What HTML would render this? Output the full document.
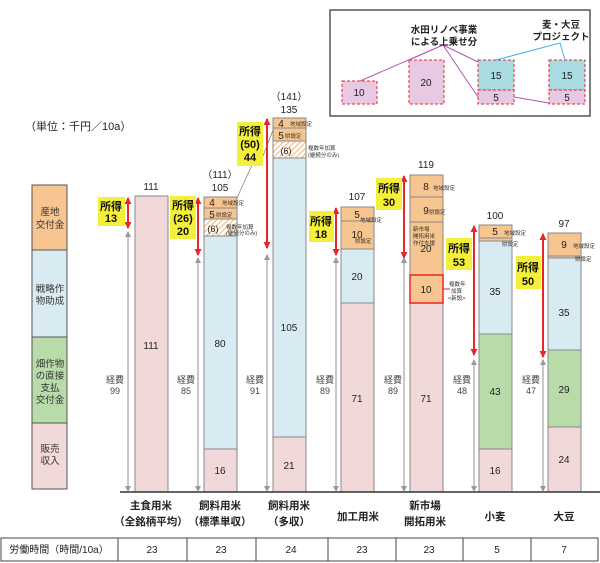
<!DOCTYPE html>
<html><head><meta charset="utf-8"><style>
html,body{margin:0;padding:0;background:#fff}
svg{display:block;font-family:"Liberation Sans","Noto Sans CJK JP",sans-serif}
</style></head><body>
<svg width="600" height="563" viewBox="0 0 600 563" xmlns="http://www.w3.org/2000/svg">
<defs>
<pattern id="h" width="4" height="4" patternUnits="userSpaceOnUse" patternTransform="rotate(45)">
<rect width="4" height="4" fill="#fff"/><rect width="1.5" height="4" fill="#f5c99a"/></pattern>
<marker id="ar" markerUnits="userSpaceOnUse" markerWidth="7" markerHeight="8" refX="6" refY="3.5" orient="auto-start-reverse"><path d="M0,0L7,3.5L0,7z" fill="#e8262a"/></marker>
<marker id="ag" markerUnits="userSpaceOnUse" markerWidth="6" markerHeight="6" refX="5" refY="3" orient="auto-start-reverse"><path d="M0,0L6,3L0,6z" fill="#999"/></marker>
</defs>
<rect x="330" y="10" width="260" height="106" fill="#fff" stroke="#555" stroke-width="1.5"/>
<g fill="#e8c9e3" stroke="#e8262a" stroke-dasharray="3,2">
<rect x="342" y="81" width="35" height="23"/>
<rect x="409" y="60" width="35" height="44"/>
<rect x="478" y="60" width="36" height="30" fill="#a8dbe2"/>
<rect x="478" y="90" width="36" height="14"/>
<rect x="549" y="60" width="36" height="30" fill="#a8dbe2"/>
<rect x="549" y="90" width="36" height="14"/>
</g>
<g stroke="#b455b0" fill="none" stroke-width="1">
<path d="M360,81L443,45L409,60M443,45L478,62M443,45L478,97M514,97L549,103"/>
</g>
<path d="M496,60L560,43L565,60" stroke="#3fb6e6" fill="none"/>
<g font-size="10" text-anchor="middle" fill="#222">
<text x="359" y="96">10</text><text x="426" y="86">20</text>
<text x="496" y="79">15</text><text x="496" y="101">5</text>
<text x="567" y="79">15</text><text x="567" y="101">5</text>
<text x="444" y="33" font-size="9.5" font-weight="bold">水田リノベ事業</text>
<text x="444" y="45" font-size="9.5" font-weight="bold">による上乗せ分</text>
<text x="561" y="28" font-size="9.5" font-weight="bold">麦・大豆</text>
<text x="561" y="40" font-size="9.5" font-weight="bold">プロジェクト</text>
</g>
<text x="25" y="130" font-size="11" fill="#222">（単位：千円／10a）</text>
<g stroke="#555">
<rect x="32" y="185" width="35" height="65" fill="#f7c58f"/>
<rect x="32" y="250" width="35" height="87" fill="#d9ebf2"/>
<rect x="32" y="337" width="35" height="86" fill="#b9dba9"/>
<rect x="32" y="423" width="35" height="66" fill="#f2d9d9"/>
</g>
<g font-size="9.5" text-anchor="middle" fill="#333">
<text x="50" y="215">産地</text><text x="50" y="228">交付金</text>
<text x="50" y="292">戦略作</text><text x="50" y="304">物助成</text>
<text x="50" y="367">畑作物</text><text x="50" y="379">の直接</text><text x="50" y="391">支払</text><text x="50" y="403">交付金</text>
<text x="50" y="452">販売</text><text x="50" y="464">収入</text>
</g>
<g stroke="#888" stroke-width="1">
<rect x="135" y="196" width="33" height="296" fill="#f2d9d9"/>
<rect x="204" y="197" width="33" height="11" fill="#f7c58f"/>
<rect x="204" y="208" width="33" height="11" fill="#f7c58f"/>
<rect x="204" y="219" width="33" height="17" fill="url(#h)"/>
<rect x="204" y="236" width="33" height="213" fill="#d9ebf2"/>
<rect x="204" y="449" width="33" height="43" fill="#f2d9d9"/>
<rect x="273" y="118" width="33" height="10" fill="#f7c58f"/>
<rect x="273" y="128" width="33" height="13" fill="#f7c58f"/>
<rect x="273" y="141" width="33" height="17" fill="url(#h)"/>
<rect x="273" y="158" width="33" height="279" fill="#d9ebf2"/>
<rect x="273" y="437" width="33" height="55" fill="#f2d9d9"/>
<rect x="341" y="207" width="33" height="14" fill="#f7c58f"/>
<rect x="341" y="221" width="33" height="28" fill="#f7c58f"/>
<rect x="341" y="249" width="33" height="54" fill="#d9ebf2"/>
<rect x="341" y="303" width="33" height="189" fill="#f2d9d9"/>
<rect x="410" y="175" width="33" height="22" fill="#f7c58f"/>
<rect x="410" y="197" width="33" height="25" fill="#f7c58f"/>
<rect x="410" y="222" width="33" height="53" fill="#f7c58f"/>
<rect x="410" y="303" width="33" height="189" fill="#f2d9d9"/>
<rect x="410" y="275" width="33" height="28" fill="#f7c58f" stroke="#e8262a" stroke-width="1.5"/>
<rect x="479" y="225" width="33" height="13" fill="#f7c58f"/>
<rect x="479" y="238" width="33" height="3" fill="#f7c58f"/>
<rect x="479" y="241" width="33" height="93" fill="#d9ebf2"/>
<rect x="479" y="334" width="33" height="115" fill="#b9dba9"/>
<rect x="479" y="449" width="33" height="43" fill="#f2d9d9"/>
<rect x="548" y="233" width="33" height="23" fill="#f7c58f"/>
<rect x="548" y="256" width="33" height="2" fill="#f7c58f"/>
<rect x="548" y="258" width="33" height="92" fill="#d9ebf2"/>
<rect x="548" y="350" width="33" height="77" fill="#b9dba9"/>
<rect x="548" y="427" width="33" height="65" fill="#f2d9d9"/>
</g>
<line x1="120" y1="492" x2="600" y2="492" stroke="#333" stroke-width="1.5"/>
<line x1="443" y1="289" x2="450" y2="289" stroke="#e8262a"/>
<g font-size="10" text-anchor="middle" fill="#222">
<text x="151" y="190">111</text><text x="151" y="349">111</text>
<text x="220" y="178">（111）</text><text x="220" y="191">105</text>
<text x="212" y="206">4</text><text x="212" y="218">5</text><text x="213" y="232" font-size="9">(6)</text>
<text x="220" y="347">80</text><text x="220" y="474">16</text>
<text x="289" y="100">（141）</text><text x="289" y="113">135</text>
<text x="281" y="127">4</text><text x="281" y="139">5</text><text x="286" y="154" font-size="9">(6)</text>
<text x="289" y="331">105</text><text x="289" y="469">21</text>
<text x="357" y="200">107</text><text x="357" y="218">5</text><text x="357" y="238">10</text>
<text x="357" y="280">20</text><text x="357" y="402">71</text>
<text x="426" y="168">119</text><text x="426" y="190">8</text><text x="426" y="214">9</text>
<text x="426" y="252">20</text><text x="426" y="293">10</text><text x="426" y="402">71</text>
<text x="495" y="219">100</text><text x="495" y="235">5</text><text x="495" y="295">35</text>
<text x="495" y="395">43</text><text x="495" y="474">16</text>
<text x="564" y="227">97</text><text x="564" y="248">9</text><text x="564" y="316">35</text>
<text x="564" y="393">29</text><text x="564" y="463">24</text>
</g>
<g font-size="5.5" fill="#333">
<text x="222" y="205">地域設定</text><text x="216" y="217">県設定</text>
<text x="226" y="229">複数年加算</text><text x="226" y="235">(継続分のみ)</text>
<text x="290" y="126">地域設定</text><text x="285" y="138">県設定</text>
<text x="308" y="150">複数年加算</text><text x="308" y="157">(継続分のみ)</text>
<text x="360" y="222">地域設定</text><text x="355" y="243">県設定</text>
<text x="433" y="190">地域設定</text><text x="429" y="214">県設定</text>
<text x="413" y="231">新市場</text><text x="413" y="238">開拓用米</text><text x="413" y="245">作付支援</text>
<text x="449" y="286">複数年</text><text x="451" y="293">加算</text><text x="448" y="300">&lt;新設&gt;</text>
<text x="504" y="235">地域設定</text><text x="502" y="246">県設定</text>
<text x="573" y="248">地域設定</text><text x="575" y="261">県設定</text>
</g>
<g stroke-width="2" stroke="#e8262a">
<line x1="128" y1="198" x2="128" y2="228" marker-start="url(#ar)" marker-end="url(#ar)"/>
<line x1="198" y1="198" x2="198" y2="255" marker-start="url(#ar)" marker-end="url(#ar)"/>
<line x1="267" y1="119" x2="267" y2="248" marker-start="url(#ar)" marker-end="url(#ar)"/>
<line x1="336" y1="208" x2="336" y2="255" marker-start="url(#ar)" marker-end="url(#ar)"/>
<line x1="404" y1="176" x2="404" y2="258" marker-start="url(#ar)" marker-end="url(#ar)"/>
<line x1="474" y1="226" x2="474" y2="355" marker-start="url(#ar)" marker-end="url(#ar)"/>
<line x1="543" y1="234" x2="543" y2="357" marker-start="url(#ar)" marker-end="url(#ar)"/>
</g>
<g stroke-width="1.3" stroke="#aaa">
<line x1="128" y1="232" x2="128" y2="491" marker-start="url(#ag)" marker-end="url(#ag)"/>
<line x1="198" y1="258" x2="198" y2="491" marker-start="url(#ag)" marker-end="url(#ag)"/>
<line x1="267" y1="255" x2="267" y2="491" marker-start="url(#ag)" marker-end="url(#ag)"/>
<line x1="336" y1="258" x2="336" y2="491" marker-start="url(#ag)" marker-end="url(#ag)"/>
<line x1="404" y1="258" x2="404" y2="491" marker-start="url(#ag)" marker-end="url(#ag)"/>
<line x1="474" y1="360" x2="474" y2="491" marker-start="url(#ag)" marker-end="url(#ag)"/>
<line x1="543" y1="360" x2="543" y2="491" marker-start="url(#ag)" marker-end="url(#ag)"/>
</g>
<line x1="237" y1="198" x2="252" y2="165" stroke="#777" stroke-width="0.7"/>
<line x1="263" y1="156" x2="273" y2="130" stroke="#777" stroke-width="0.7"/>
<g fill="#f3ef3a">
<rect x="98" y="197" width="27" height="29"/>
<rect x="170" y="196" width="26" height="43"/>
<rect x="237" y="122" width="26" height="44"/>
<rect x="309" y="211" width="25" height="31"/>
<rect x="376" y="178" width="26" height="32"/>
<rect x="446" y="238" width="26" height="32"/>
<rect x="516" y="256" width="25" height="33"/>
</g>
<g font-size="11" font-weight="bold" text-anchor="middle" fill="#111">
<text x="111" y="210">所得</text><text x="111" y="222">13</text>
<text x="183" y="209">所得</text><text x="183" y="222">(26)</text><text x="183" y="235">20</text>
<text x="250" y="135">所得</text><text x="250" y="148">(50)</text><text x="250" y="161">44</text>
<text x="321" y="225">所得</text><text x="321" y="238">18</text>
<text x="389" y="192">所得</text><text x="389" y="206">30</text>
<text x="459" y="252">所得</text><text x="459" y="266">53</text>
<text x="528" y="271">所得</text><text x="528" y="285">50</text>
</g>
<g font-size="9" text-anchor="middle" fill="#444">
<text x="115" y="383">経費</text><text x="115" y="394">99</text>
<text x="186" y="383">経費</text><text x="186" y="394">85</text>
<text x="255" y="383">経費</text><text x="255" y="394">91</text>
<text x="325" y="383">経費</text><text x="325" y="394">89</text>
<text x="393" y="383">経費</text><text x="393" y="394">89</text>
<text x="462" y="383">経費</text><text x="462" y="394">48</text>
<text x="531" y="383">経費</text><text x="531" y="394">47</text>
</g>
<g font-size="10.5" font-weight="bold" text-anchor="middle" fill="#222">
<text x="151" y="509">主食用米</text><text x="151" y="525">（全銘柄平均）</text>
<text x="220" y="509">飼料用米</text><text x="220" y="525">（標準単収）</text>
<text x="289" y="509">飼料用米</text><text x="289" y="525">（多収）</text>
<text x="358" y="520">加工用米</text>
<text x="425" y="509">新市場</text><text x="425" y="525">開拓用米</text>
<text x="495" y="520">小麦</text><text x="564" y="520">大豆</text>
</g>
<g stroke="#444" stroke-width="1" fill="none">
<rect x="1" y="538" width="597" height="23"/>
<path d="M118,538V561M187,538V561M256,538V561M328,538V561M396,538V561M463,538V561M531,538V561"/>
</g>
<g font-size="10" text-anchor="middle" fill="#222">
<text x="59" y="553">労働時間（時間/10a）</text>
<text x="152" y="553">23</text><text x="221" y="553">23</text><text x="291" y="553">24</text>
<text x="362" y="553">23</text><text x="429" y="553">23</text><text x="497" y="553">5</text><text x="564" y="553">7</text>
</g>
</svg>
</body></html>
